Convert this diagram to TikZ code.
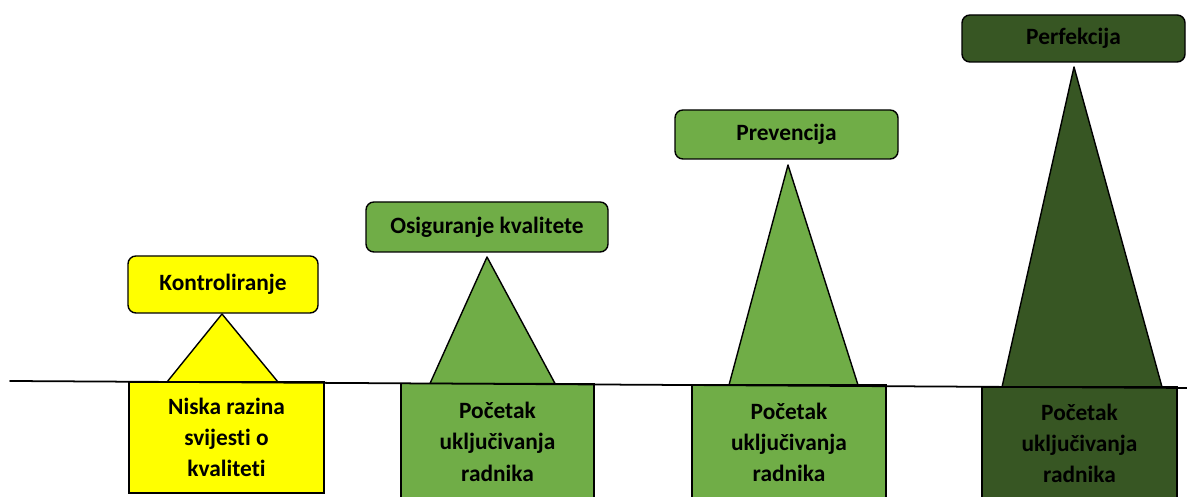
\documentclass[tikz,border=0pt]{standalone}
\usepackage{fontspec}
\setmainfont{Carlito}[Ligatures=NoCommon]
\usepackage{tikz}
\usepackage{tkz-euclide}
\usepackage{xcolor}
\definecolor{zuta}{HTML}{FFFF00}
\definecolor{zelena}{HTML}{70AD47}
\definecolor{tamna}{HTML}{375623}
\tikzset{
  razina/.style={draw=black,line width=0.8pt,rounded corners=4.5pt,inner sep=0pt,
    font=\bfseries\fontsize{13.3}{16}\selectfont},
  temelj/.style={draw=black,line width=0.8pt,inner sep=0pt,align=center,
    font=\bfseries\fontsize{13.3}{17.8}\selectfont}
}

\begin{document}
\begin{tikzpicture}
    \useasboundingbox (0,0) rectangle (23.74,9.94);
    \tkzDefPoint(3.34,2.30){A} \tkzDefPoint(5.56,2.30){B} \tkzDefPoint(4.44,3.66){C}
    \tkzDefPoint(8.60,2.27){D} \tkzDefPoint(11.10,2.27){E} \tkzDefPoint(9.74,4.80){F}
    \tkzDefPoint(14.58,2.24){G} \tkzDefPoint(17.16,2.24){H} \tkzDefPoint(15.76,6.64){I}
    \tkzDefPoint(20.04,2.20){J} \tkzDefPoint(23.24,2.20){K} \tkzDefPoint(21.48,8.60){L}
    \tkzDefPoint(0.20,2.32){P} \tkzDefPoint(23.74,2.18){Q}
    \tkzDrawPolygon[fill=zuta,line width=0.8pt](A,B,C)
    \tkzDrawPolygon[fill=zelena,line width=0.8pt](D,E,F)
    \tkzDrawPolygon[fill=zelena,line width=0.8pt](G,H,I)
    \tkzDrawPolygon[fill=tamna,line width=0.8pt](J,K,L)
    \node[razina,fill=zuta,minimum width=3.8cm,minimum height=1.14cm] (kontrola) at (4.46,4.25) {Kontroliranje};
    \node[razina,fill=zelena,minimum width=4.84cm,minimum height=1.0cm] (osiguranje) at (9.74,5.40) {Osiguranje kvalitete};
    \node[razina,fill=zelena,minimum width=4.46cm,minimum height=0.98cm] (prevencija) at (15.73,7.25) {Prevencija};
    \node[razina,fill=tamna,minimum width=4.46cm,minimum height=0.94cm] (perfekcija) at (21.47,9.17) {Perfekcija};
    \node[temelj,fill=zuta,minimum width=3.9cm,minimum height=2.22cm] (niska) at (4.53,1.19) {Niska razina\\svijesti o\\kvaliteti};
    \node[temelj,fill=zelena,minimum width=3.86cm,minimum height=2.33cm] (pocetak1) at (9.95,1.105) {Početak\\uključivanja\\radnika};
    \node[temelj,fill=zelena,minimum width=3.88cm,minimum height=2.30cm] (pocetak2) at (15.78,1.09) {Početak\\uključivanja\\radnika};
    \node[temelj,fill=tamna,minimum width=3.9cm,minimum height=2.26cm] (pocetak3) at (21.59,1.07) {Početak\\uključivanja\\radnika};
    \tkzDrawSegment[line width=1pt](P,Q)
\end{tikzpicture}
\end{document}
